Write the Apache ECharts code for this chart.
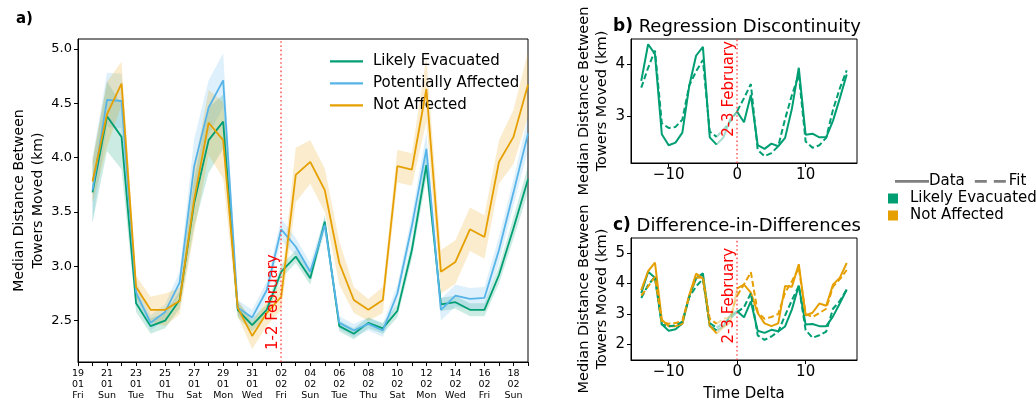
<!DOCTYPE html>
<html><head><meta charset="utf-8">
<script src="https://cdn.jsdelivr.net/npm/echarts@6/dist/echarts.min.js"></script>
<style>html,body{margin:0;padding:0;background:#fff}#c{width:1036px;height:403px}</style>
</head><body><div id="c"></div>
<script>
// ---------- DATA ----------
// day index: 0 = 19 Jan, 14 = 2 Feb, 31 = 19 Feb
const days = [1,2,3,4,5,6,7,8,9,10,11,12,13,14,15,16,17,18,19,20,21,22,23,24,25,26,27,28,29,30,31];
const tickDays = [0,2,4,6,8,10,12,14,16,18,20,22,24,26,28,30];
const tickLabels = ['19\n01\nFri','21\n01\nSun','23\n01\nTue','25\n01\nThu','27\n01\nSat','29\n01\nMon','31\n01\nWed','02\n02\nFri','04\n02\nSun','06\n02\nTue','08\n02\nThu','10\n02\nSat','12\n02\nMon','14\n02\nWed','16\n02\nFri','18\n02\nSun'];

const likelyEvacuated = [3.68,4.38,4.19,2.66,2.45,2.50,2.69,3.58,4.16,4.33,2.60,2.46,2.60,2.95,3.09,2.89,3.41,2.45,2.38,2.48,2.43,2.59,3.15,3.93,2.65,2.67,2.60,2.60,2.92,3.35,3.80];
const potentiallyAffected = [3.70,4.53,4.52,2.76,2.48,2.58,2.85,3.92,4.46,4.71,2.62,2.53,2.78,3.34,3.18,2.95,3.38,2.48,2.41,2.47,2.41,2.75,3.37,4.08,2.60,2.73,2.70,2.71,3.15,3.68,4.22];
const notAffected = [3.78,4.40,4.68,2.81,2.60,2.60,2.68,3.61,4.32,4.16,2.62,2.36,2.57,2.72,3.84,3.96,3.70,3.03,2.69,2.60,2.69,3.92,3.89,4.63,2.95,3.04,3.34,3.27,3.96,4.19,4.67];

// confidence band half-widths
const likelyEvacuatedCI = [0.28,0.32,0.30,0.08,0.07,0.07,0.08,0.22,0.30,0.25,0.07,0.06,0.05,0.06,0.06,0.06,0.06,0.05,0.05,0.05,0.05,0.06,0.08,0.12,0.06,0.06,0.06,0.06,0.08,0.10,0.12];
const potentiallyAffectedCI = [0.30,0.25,0.25,0.10,0.07,0.07,0.10,0.25,0.25,0.25,0.07,0.07,0.08,0.10,0.08,0.08,0.07,0.06,0.06,0.06,0.06,0.08,0.10,0.15,0.10,0.10,0.10,0.10,0.12,0.12,0.15];
const notAffectedCI = [0.20,0.30,0.20,0.10,0.12,0.15,0.12,0.30,0.30,0.35,0.08,0.12,0.12,0.12,0.25,0.20,0.20,0.20,0.12,0.10,0.12,0.15,0.15,0.30,0.20,0.20,0.20,0.20,0.20,0.25,0.30];

// time delta for panels b, c
const timeDelta = [-14,-13,-12,-11,-10,-9,-8,-7,-6,-5,-4,-3,-2,-1,0,1,2,3,4,5,6,7,8,9,10,11,12,13,14,15,16];
const rdFitEvacuated = [3.55,3.93,4.26,2.87,2.78,2.80,2.94,3.59,3.86,4.08,2.71,2.61,2.75,2.90,3.10,3.35,3.62,2.36,2.24,2.30,2.43,2.95,3.41,3.80,2.52,2.40,2.45,2.59,3.13,3.54,3.88];
const didFitEvacuated = [3.52,3.95,4.22,2.65,2.60,2.62,2.75,3.55,3.90,4.15,2.70,2.55,2.70,2.85,3.06,3.22,3.68,2.30,2.15,2.26,2.42,2.95,3.45,3.92,2.47,2.22,2.30,2.42,3.17,3.43,3.80];
const didFitNotAffected = [3.60,3.90,4.22,2.73,2.68,2.70,2.78,3.60,4.19,4.20,2.84,2.68,2.84,2.90,3.60,3.97,4.37,3.06,2.84,2.90,3.00,3.70,4.07,4.51,3.00,2.90,3.03,3.17,3.90,4.14,4.44];
const excludedDelta = [-2,-1];

const cutDay = 14;
const cutDelta = 0;

// ---------- STYLE ----------
const FONT = 'DejaVu Sans';
const GREEN = '#009E73', BLUE = '#56B4E9', ORANGE = '#E69F00';
const CUTCOLOR = 'rgba(255,50,50,0.7)';

function pairs(xs, ys){ return xs.map((x,i)=>[x, ys[i]]); }

function band(xs, vals, hw, color, ax){
  return {type:'custom', xAxisIndex:ax, yAxisIndex:ax, silent:true, z:1, clip:true,
    data: xs.map((x,i)=>[x, vals[i]-hw[i], vals[i]+hw[i]]),
    encode:{x:0, y:[1,2]},
    renderItem:(params, api)=>{
      if (params.dataIndex !== 0) return;
      const upper = xs.map((x,i)=>api.coord([x, vals[i]+hw[i]]));
      const lower = xs.map((x,i)=>api.coord([x, vals[i]-hw[i]])).reverse();
      return {type:'polygon', shape:{points: upper.concat(lower)}, style:{fill:color, opacity:0.2}};
    }};
}

// split a delta-indexed series into the kept part and the pale part around the cutoff
function splitSeries(vals, color, dashed, ax, name){
  const main = timeDelta.map((d,i)=> excludedDelta.includes(d) ? [d, null] : [d, vals[i]]);
  const lo = Math.min(...excludedDelta) - 1, hi = Math.max(...excludedDelta) + 1;
  const pale = [];
  timeDelta.forEach((d,i)=>{ if (d>=lo && d<=hi) pale.push([d, vals[i]]); });
  const ls = {color:color, width:2, type: dashed ? [6,3] : 'solid'};
  return [
    {name:name, type:'line', xAxisIndex:ax, yAxisIndex:ax, symbol:'none', connectNulls:false,
     lineStyle:ls, itemStyle:{color:color}, data:main, z:3},
    {type:'line', xAxisIndex:ax, yAxisIndex:ax, symbol:'none',
     lineStyle:Object.assign({}, ls, {opacity:0.35}), data:pale, z:3}
  ];
}

function cutLine(ax, xv){
  return {type:'line', xAxisIndex:ax, yAxisIndex:ax, data:[], symbol:'none', z:5,
    markLine:{silent:true, symbol:'none', label:{show:false}, animation:false,
      lineStyle:{color:CUTCOLOR, type:[1.6,2.6], width:1.7, opacity:1}, data:[{xAxis:xv}]}};
}

const axLine = {show:true, onZero:false, lineStyle:{color:'#000', width:1}};
const axTick = {show:true, length:4, lineStyle:{color:'#000'}};
const yName = 'Median Distance Between\nTowers Moved (km)';

const series = [];
series.push(band(days, likelyEvacuated, likelyEvacuatedCI, GREEN, 0));
series.push(band(days, potentiallyAffected, potentiallyAffectedCI, BLUE, 0));
series.push(band(days, notAffected, notAffectedCI, ORANGE, 0));
series.push({name:'Likely Evacuated', type:'line', xAxisIndex:0, yAxisIndex:0, symbol:'none',
  lineStyle:{color:GREEN, width:1.8}, itemStyle:{color:GREEN}, data:pairs(days, likelyEvacuated), z:4});
series.push({name:'Potentially Affected', type:'line', xAxisIndex:0, yAxisIndex:0, symbol:'none',
  lineStyle:{color:BLUE, width:1.8}, itemStyle:{color:BLUE}, data:pairs(days, potentiallyAffected), z:4});
series.push({name:'Not Affected', type:'line', xAxisIndex:0, yAxisIndex:0, symbol:'none',
  lineStyle:{color:ORANGE, width:1.8}, itemStyle:{color:ORANGE}, data:pairs(days, notAffected), z:4});
series.push(cutLine(0, cutDay));

// panel b
series.push(...splitSeries(likelyEvacuated, GREEN, false, 1, 'b-data'));
series.push(...splitSeries(rdFitEvacuated, GREEN, true, 1, 'b-fit'));
series.push(cutLine(1, cutDelta));
// panel c
series.push(...splitSeries(likelyEvacuated, GREEN, false, 2, 'c-data-g'));
series.push(...splitSeries(notAffected, ORANGE, false, 2, 'c-data-o'));
series.push(...splitSeries(didFitEvacuated, GREEN, true, 2, 'c-fit-g'));
series.push(...splitSeries(didFitNotAffected, ORANGE, true, 2, 'c-fit-o'));
series.push(cutLine(2, cutDelta));
// legend entries for line styles
series.push({name:'Data', type:'line', xAxisIndex:1, yAxisIndex:1, symbol:'none', data:[], lineStyle:{color:'#808080', width:2.5}, itemStyle:{color:'#808080'}});
series.push({name:'Fit', type:'line', xAxisIndex:1, yAxisIndex:1, symbol:'none', data:[], lineStyle:{color:'#808080', width:2.5, type:[6,3]}, itemStyle:{color:'#808080'}});

const deltaFmt = v => (v<0 ? '\u2212' + Math.abs(v) : String(v));
const LINEICON = 'path://M0,0 L0,0 M0,5.8 L33,5.8 L33,8 L0,8 Z M33,14 L33,14';
const SOLIDICON = 'path://M0,0 L0,0 M0,5.5 L34,5.5 L34,8.2 L0,8.2 Z M34,14 L34,14';
const DASHICON = 'path://M0,0 L0,0 M0,5.5 L12,5.5 L12,8.2 L0,8.2 Z M19,5.5 L31,5.5 L31,8.2 L19,8.2 Z M34,14 L34,14';

const option = {
  animation:false,
  backgroundColor:'#fff',
  textStyle:{fontFamily:FONT},
  title:[
    {text:'{b|a)}', left:11, top:7, textStyle:{fontWeight:'normal', rich:{b:{fontFamily:FONT, fontWeight:'bold', fontSize:15, color:'#000'}}}},
    {text:'{b|b)} {n|Regression Discontinuity}', left:608, top:13, textStyle:{fontWeight:'normal', rich:{b:{fontFamily:FONT, fontWeight:'bold', fontSize:17, color:'#000'}, n:{fontFamily:FONT, fontWeight:'normal', fontSize:18, color:'#000'}}}},
    {text:'{b|c)} {n|Difference-in-Differences}', left:608, top:212, textStyle:{fontWeight:'normal', rich:{b:{fontFamily:FONT, fontWeight:'bold', fontSize:17, color:'#000'}, n:{fontFamily:FONT, fontWeight:'normal', fontSize:18, color:'#000'}}}}
  ],
  grid:[
    {left:78, top:39, width:450, height:323, show:true, borderColor:'#000', borderWidth:1, backgroundColor:'transparent'},
    {left:631, top:39, width:226, height:124, show:true, borderColor:'#000', borderWidth:1, backgroundColor:'transparent'},
    {left:631, top:238, width:226, height:124, show:true, borderColor:'#000', borderWidth:1, backgroundColor:'transparent'}
  ],
  xAxis:[
    {type:'value', gridIndex:0, min:0, max:31, axisLine:axLine, splitLine:{show:false},
     axisTick:Object.assign({customValues:[0].concat(days)}, axTick),
     axisLabel:{customValues:tickDays, fontFamily:FONT, fontSize:9.5, lineHeight:11, color:'#000', margin:6,
       formatter:v=>tickLabels[tickDays.indexOf(Math.round(v))] || ''}},
    {type:'value', gridIndex:1, min:-15.5, max:17.5, axisLine:axLine, splitLine:{show:false},
     axisTick:Object.assign({customValues:[-10,0,10]}, axTick),
     axisLabel:{customValues:[-10,0,10], fontFamily:FONT, fontSize:15, color:'#000', margin:5, formatter:deltaFmt}},
    {type:'value', gridIndex:2, min:-15.5, max:17.5, axisLine:axLine, splitLine:{show:false},
     axisTick:Object.assign({customValues:[-10,0,10]}, axTick),
     axisLabel:{customValues:[-10,0,10], fontFamily:FONT, fontSize:15, color:'#000', margin:5, formatter:deltaFmt},
     name:'Time Delta', nameLocation:'middle', nameGap:27, nameTextStyle:{fontFamily:FONT, fontSize:15, color:'#000'}}
  ],
  yAxis:[
    {type:'value', gridIndex:0, min:2.12, max:5.09, axisLine:axLine, splitLine:{show:false},
     axisTick:Object.assign({customValues:[2.5,3,3.5,4,4.5,5]}, axTick),
     axisLabel:{customValues:[2.5,3,3.5,4,4.5,5], fontFamily:FONT, fontSize:13, color:'#000', margin:6, formatter:v=>v.toFixed(1)},
     name:yName, nameLocation:'middle', nameGap:30, nameTextStyle:{fontFamily:FONT, fontSize:14, color:'#000', lineHeight:19}},
    {type:'value', gridIndex:1, min:2.11, max:4.48, axisLine:axLine, splitLine:{show:false},
     axisTick:Object.assign({customValues:[3,4]}, axTick),
     axisLabel:{customValues:[3,4], fontFamily:FONT, fontSize:15, color:'#000', margin:6},
     name:yName, nameLocation:'middle', nameGap:19, nameTextStyle:{fontFamily:FONT, fontSize:14.5, color:'#000', lineHeight:18}},
    {type:'value', gridIndex:2, min:1.49, max:5.49, axisLine:axLine, splitLine:{show:false},
     axisTick:Object.assign({customValues:[2,3,4,5]}, axTick),
     axisLabel:{customValues:[2,3,4,5], fontFamily:FONT, fontSize:15, color:'#000', margin:6},
     name:yName, nameLocation:'middle', nameGap:19, nameTextStyle:{fontFamily:FONT, fontSize:14.5, color:'#000', lineHeight:18}}
  ],
  legend:[
    {data:[{name:'Likely Evacuated', icon:LINEICON},{name:'Potentially Affected', icon:LINEICON},{name:'Not Affected', icon:LINEICON}],
     orient:'vertical', left:325, top:49, itemWidth:33, itemHeight:14, itemGap:7, selectedMode:false,
     textStyle:{fontFamily:FONT, fontSize:15, color:'#000', padding:[0,0,0,5]}},
    {data:[{name:'Data', icon:SOLIDICON},{name:'Fit', icon:DASHICON}], orient:'horizontal', left:890, top:169, itemWidth:34, itemHeight:14, itemGap:10, selectedMode:false,
     textStyle:{fontFamily:FONT, fontSize:15, color:'#000', padding:[0,0,0,-5]}},
    {data:[{name:'Likely Evacuated', icon:'rect', itemStyle:{color:GREEN}}, {name:'Not Affected', icon:'rect', itemStyle:{color:ORANGE}}],
     orient:'vertical', left:883, top:186, itemWidth:10, itemHeight:10, itemGap:2, selectedMode:false,
     textStyle:{fontFamily:FONT, fontSize:15, lineHeight:14, color:'#000', padding:[0,0,0,7]}}
  ],
  series: series
};

const chart = echarts.init(document.getElementById('c'));
chart.setOption(option);

// cutoff annotations placed via the axes' scales
const pa = chart.convertToPixel({xAxisIndex:0, yAxisIndex:0}, [cutDay, 2.23]);
const pb = chart.convertToPixel({xAxisIndex:1, yAxisIndex:1}, [cutDelta, 2.61]);
const pc = chart.convertToPixel({xAxisIndex:2, yAxisIndex:2}, [cutDelta, 2.03]);
function cutText(p, txt){
  return {type:'text', x:p[0]-1, y:p[1], rotation:Math.PI/2, z:20,
    style:{text:txt, fill:'#ff0000', font:'15px "DejaVu Sans"', align:'left', verticalAlign:'bottom'}};
}
chart.setOption({graphic:[cutText(pa,'1-2 February'), cutText(pb,'2-3 February'), cutText(pc,'2-3 February')]});
</script>
</body></html>
